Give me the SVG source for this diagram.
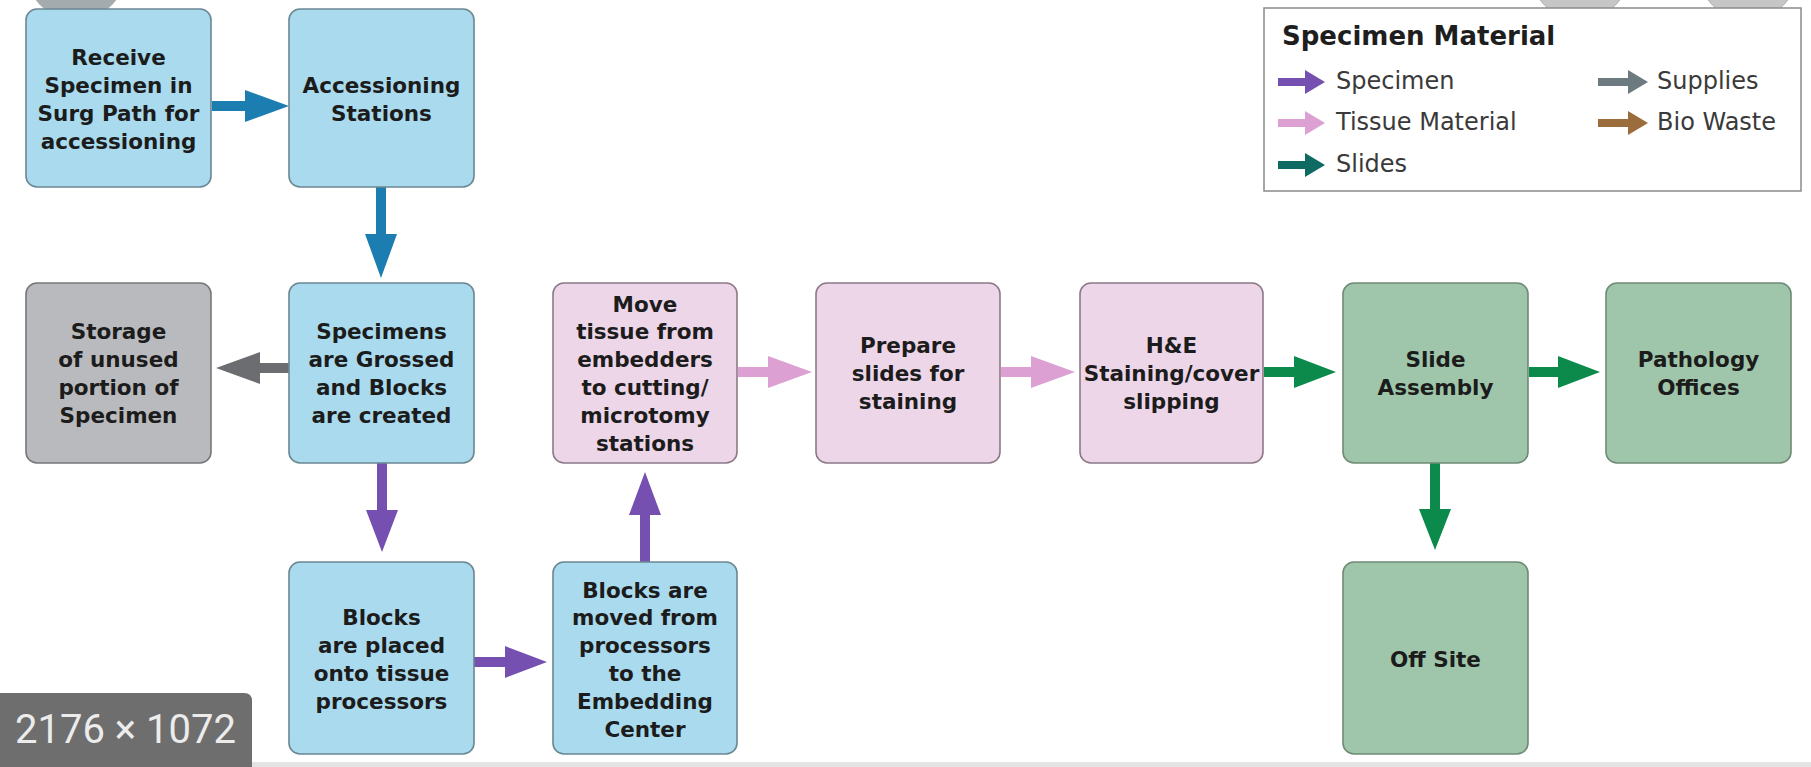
<svg xmlns="http://www.w3.org/2000/svg" width="1811" height="767" viewBox="0 0 1811 767">
<style>
.box{stroke:#6b8792;stroke-width:1.6}
.blue{fill:#a9daee}
.gray{fill:#b9babd;stroke:#767779}
.pink{fill:#eed6e9;stroke:#8c7a88}
.green{fill:#9fc6aa;stroke:#6f8a76}
.t{font-family:"DejaVu Sans",sans-serif;font-weight:bold;font-size:21.5px;fill:#1c1c1c;text-anchor:middle}
.lt{font-family:"DejaVu Sans",sans-serif;font-size:24px;fill:#3a3a3a}
.lh{font-family:"DejaVu Sans",sans-serif;font-weight:bold;font-size:26px;fill:#1e1e1e}
.a-blue{fill:#1b7db0}
.a-gray{fill:#6b6d70}
.a-purple{fill:#7650b0}
.a-pink{fill:#dca0d3}
.a-green{fill:#0c8a4c}
.a-teal{fill:#0f6b62}
.a-sup{fill:#6d7a80}
.a-bio{fill:#9b6c3c}
.circ{fill:#c6c6c6;stroke:#b0b0b0;stroke-width:1}
</style>
<rect width="1811" height="767" fill="#ffffff"/>

<g id="overlay-circles">
<circle class="circ" cx="76" cy="-30" r="50" style="fill:#a3abae"/>
<circle class="circ" cx="1580" cy="-30" r="50"/>
<circle class="circ" cx="1748" cy="-30" r="50"/>
</g>

<g id="legend">
<rect x="1264" y="8" width="537" height="183" fill="#ffffff" stroke="#8a8a8a" stroke-width="1.5"/>
<text class="lh" x="1282" y="45">Specimen Material</text>
<path class="a-purple" d="M1278 78 H1305 V70 L1325 82 L1305 94 V86 H1278 Z"/>
<text class="lt" x="1336" y="89">Specimen</text>
<path class="a-pink" d="M1278 119 H1305 V111 L1325 123 L1305 135 V127 H1278 Z"/>
<text class="lt" x="1336" y="130">Tissue Material</text>
<path class="a-teal" d="M1278 161 H1305 V153 L1325 165 L1305 177 V169 H1278 Z"/>
<text class="lt" x="1336" y="172">Slides</text>
<path class="a-sup" d="M1598 78 H1628 V70 L1648 82 L1628 94 V86 H1598 Z"/>
<text class="lt" x="1657" y="89">Supplies</text>
<path class="a-bio" d="M1598 119 H1628 V111 L1648 123 L1628 135 V127 H1598 Z"/>
<text class="lt" x="1657" y="130">Bio Waste</text>
</g>

<g id="connectors">
<path class="a-blue" d="M212 101 H245 V90 L289 106 L245 122 V111 H212 Z"/>
<path class="a-blue" d="M376 187 V234 H365 L381 278 L397 234 H386 V187 Z"/>
<path class="a-gray" d="M289 363 H260 V352 L216 368 L260 384 V373 H289 Z"/>
<path class="a-purple" d="M377 463 V510 H366 L382 552 L398 510 H387 V463 Z"/>
<path class="a-purple" d="M474 657 H505 V646 L547 662 L505 678 V667 H474 Z"/>
<path class="a-purple" d="M640 562 V515 H629 L645 472 L661 515 H650 V562 Z"/>
<path class="a-pink" d="M738 367 H768 V356 L812 372 L768 388 V377 H738 Z"/>
<path class="a-pink" d="M1001 367 H1031 V356 L1075 372 L1031 388 V377 H1001 Z"/>
<path class="a-green" d="M1264 367 H1294 V356 L1336 372 L1294 388 V377 H1264 Z"/>
<path class="a-green" d="M1529 367 H1558 V356 L1600 372 L1558 388 V377 H1529 Z"/>
<path class="a-green" d="M1430 463 V509 H1419 L1435 550 L1451 509 H1440 V463 Z"/>
</g>

<g id="receive">
<rect class="box blue" x="26" y="9" width="185" height="178" rx="11"/>
<text class="t"><tspan x="118.5" y="65.3">Receive</tspan><tspan x="118.5" y="93.1">Specimen in</tspan><tspan x="118.5" y="120.9">Surg Path for</tspan><tspan x="118.5" y="148.7">accessioning</tspan></text>
</g>

<g id="accessioning">
<rect class="box blue" x="289" y="9" width="185" height="178" rx="11"/>
<text class="t"><tspan x="381.5" y="93.1">Accessioning</tspan><tspan x="381.5" y="120.9">Stations</tspan></text>
</g>

<g id="storage">
<rect class="box gray" x="26" y="283" width="185" height="180" rx="11"/>
<text class="t"><tspan x="118.5" y="339.3">Storage</tspan><tspan x="118.5" y="367.1">of unused</tspan><tspan x="118.5" y="394.9">portion of</tspan><tspan x="118.5" y="422.7">Specimen</tspan></text>
</g>

<g id="grossed">
<rect class="box blue" x="289" y="283" width="185" height="180" rx="11"/>
<text class="t"><tspan x="381.5" y="339.3">Specimens</tspan><tspan x="381.5" y="367.1">are Grossed</tspan><tspan x="381.5" y="394.9">and Blocks</tspan><tspan x="381.5" y="422.7">are created</tspan></text>
</g>

<g id="move-tissue">
<rect class="box pink" x="553" y="283" width="184" height="180" rx="11"/>
<text class="t"><tspan x="645" y="311.5">Move</tspan><tspan x="645" y="339.3">tissue from</tspan><tspan x="645" y="367.1">embedders</tspan><tspan x="645" y="394.9">to cutting/</tspan><tspan x="645" y="422.7">microtomy</tspan><tspan x="645" y="450.5">stations</tspan></text>
</g>

<g id="prepare">
<rect class="box pink" x="816" y="283" width="184" height="180" rx="11"/>
<text class="t"><tspan x="908" y="353.2">Prepare</tspan><tspan x="908" y="381">slides for</tspan><tspan x="908" y="408.8">staining</tspan></text>
</g>

<g id="he-staining">
<rect class="box pink" x="1080" y="283" width="183" height="180" rx="11"/>
<text class="t"><tspan x="1171.5" y="353.2">H&amp;E</tspan><tspan x="1171.5" y="381">Staining/cover</tspan><tspan x="1171.5" y="408.8">slipping</tspan></text>
</g>

<g id="slide-assembly">
<rect class="box green" x="1343" y="283" width="185" height="180" rx="11"/>
<text class="t"><tspan x="1435.5" y="367.1">Slide</tspan><tspan x="1435.5" y="394.9">Assembly</tspan></text>
</g>

<g id="pathology">
<rect class="box green" x="1606" y="283" width="185" height="180" rx="11"/>
<text class="t"><tspan x="1698.5" y="367.1">Pathology</tspan><tspan x="1698.5" y="394.9">Offices</tspan></text>
</g>

<g id="blocks-placed">
<rect class="box blue" x="289" y="562" width="185" height="192" rx="11"/>
<text class="t"><tspan x="381.5" y="625.3">Blocks</tspan><tspan x="381.5" y="653.1">are placed</tspan><tspan x="381.5" y="680.9">onto tissue</tspan><tspan x="381.5" y="708.7">processors</tspan></text>
</g>

<g id="blocks-moved">
<rect class="box blue" x="553" y="562" width="184" height="192" rx="11"/>
<text class="t"><tspan x="645" y="597.5">Blocks are</tspan><tspan x="645" y="625.3">moved from</tspan><tspan x="645" y="653.1">processors</tspan><tspan x="645" y="680.9">to the</tspan><tspan x="645" y="708.7">Embedding</tspan><tspan x="645" y="736.5">Center</tspan></text>
</g>

<g id="off-site">
<rect class="box green" x="1343" y="562" width="185" height="192" rx="11"/>
<text class="t"><tspan x="1435.5" y="667">Off Site</tspan></text>
</g>

<rect x="252" y="762" width="1559" height="5" fill="#e4e4e4"/>
<g id="size-badge">
<path d="M0 693 H244 Q252 693 252 701 V767 H0 Z" fill="#6e6e6e"/>
<text x="15" y="743" font-family="Roboto, sans-serif" font-size="40" fill="#ececec">2176 × 1072</text>
</g>
</svg>
